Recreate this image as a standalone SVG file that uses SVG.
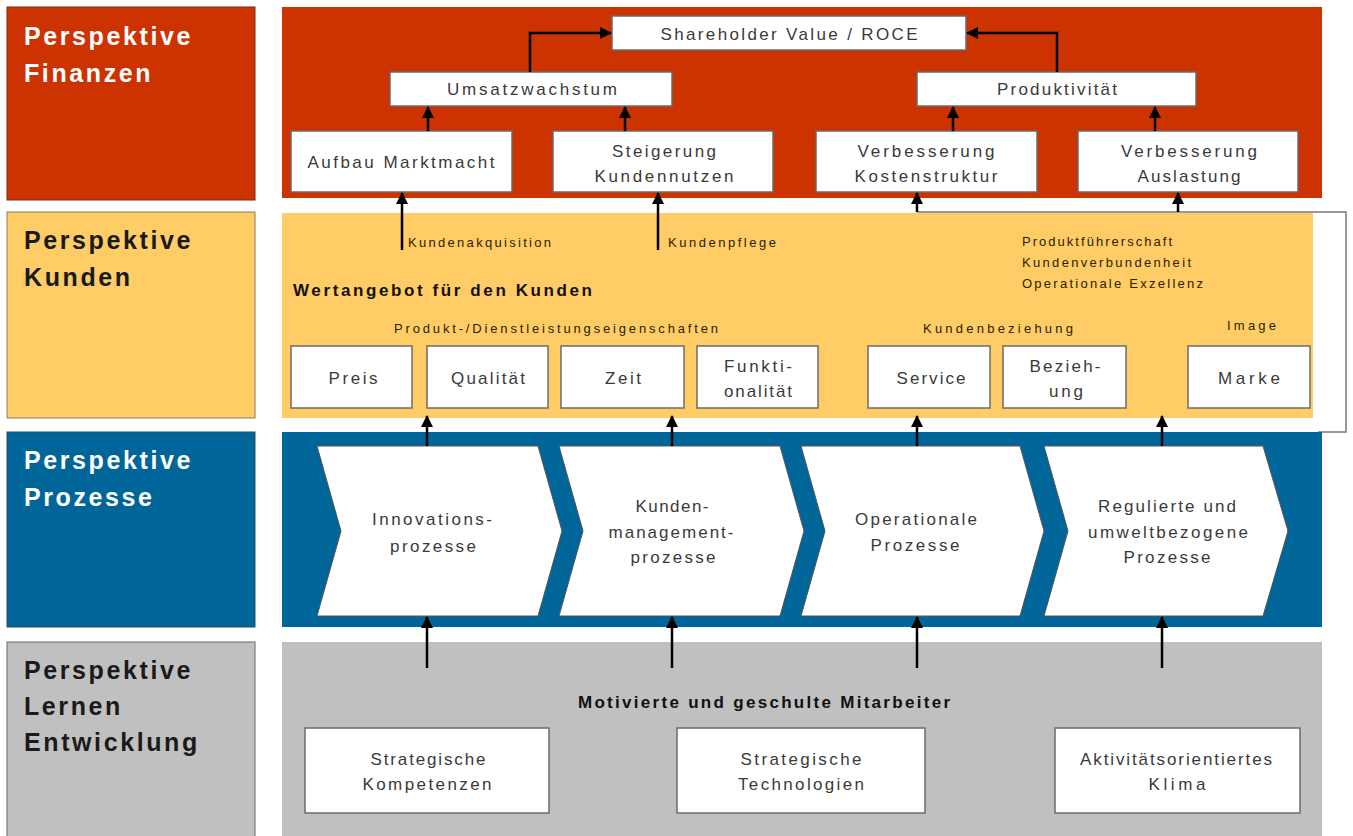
<svg xmlns="http://www.w3.org/2000/svg" width="1353" height="836" viewBox="0 0 1353 836">
<defs>
<marker id="ah" markerUnits="userSpaceOnUse" markerWidth="12" markerHeight="12" refX="11" refY="6" orient="auto">
<path d="M0,0 L12,6 L0,12 Z" fill="#000"/>
</marker>
<style>
.lab{font-family:"Liberation Sans",Arial,sans-serif;font-weight:bold;font-size:25px;letter-spacing:2.6px}
.box{fill:#fff;stroke:#6b6b6b;stroke-width:1.5}
.t{font-family:"Liberation Sans",Arial,sans-serif;font-size:17px;fill:#3a3a3a;text-anchor:middle}
.s{font-family:"Liberation Sans",Arial,sans-serif;font-size:13px;fill:#2a2200}
.b{font-family:"Liberation Sans",Arial,sans-serif;font-size:17px;font-weight:bold;fill:#111}
.con{stroke:#000;stroke-width:2.5;fill:none;marker-end:url(#ah)}
.chev{fill:#fff;stroke:#555;stroke-width:1}
</style>
</defs>
<rect width="1353" height="836" fill="#fff"/>

<!-- bracket line -->
<polyline points="917,212 1346,212 1346,432 1318,432" fill="none" stroke="#777" stroke-width="1.5"/>

<!-- left labels -->
<g id="lab-finanzen">
<rect x="7" y="7" width="248" height="193" fill="#CC3300" stroke="#7a2a10" stroke-width="1"/>
<text class="lab" fill="#fff" x="24" y="45">Perspektive</text>
<text class="lab" fill="#fff" x="24" y="82">Finanzen</text>
</g>
<g id="lab-kunden">
<rect x="7" y="212" width="248" height="206" fill="#FFCC66" stroke="#8a7a5a" stroke-width="1"/>
<text class="lab" fill="#1a1a1a" x="24" y="249">Perspektive</text>
<text class="lab" fill="#1a1a1a" x="24" y="286">Kunden</text>
</g>
<g id="lab-prozesse">
<rect x="7" y="432" width="248" height="195" fill="#006699" stroke="#2a4a60" stroke-width="1"/>
<text class="lab" fill="#fff" x="24" y="469">Perspektive</text>
<text class="lab" fill="#fff" x="24" y="506">Prozesse</text>
</g>
<g id="lab-lernen">
<rect x="7" y="642" width="248" height="200" fill="#C0C0C0" stroke="#666" stroke-width="1"/>
<text class="lab" fill="#1a1a1a" x="24" y="679">Perspektive</text>
<text class="lab" fill="#1a1a1a" x="24" y="715">Lernen</text>
<text class="lab" fill="#1a1a1a" x="24" y="751">Entwicklung</text>
</g>

<!-- panels -->
<g id="panel-finanzen"><rect x="282" y="7" width="1040" height="191" fill="#CC3300"/></g>
<g id="panel-kunden"><rect x="282" y="213" width="1031" height="205" fill="#FFCC66"/></g>
<g id="panel-prozesse"><rect x="282" y="432" width="1040" height="195" fill="#006699"/></g>
<g id="panel-lernen"><rect x="282" y="642" width="1040" height="194" fill="#C0C0C0"/></g>

<!-- finance nodes -->
<g id="shareholder"><rect class="box" x="612" y="16" width="354" height="34"/><text class="t" x="789" y="40" textLength="257" lengthAdjust="spacing">Shareholder Value / ROCE</text></g>
<g id="umsatz"><rect class="box" x="390" y="72" width="282" height="34"/><text class="t" x="532" y="95" textLength="170" lengthAdjust="spacing">Umsatzwachstum</text></g>
<g id="produktivitaet"><rect class="box" x="917" y="72" width="279" height="34"/><text class="t" x="1057" y="95" textLength="120" lengthAdjust="spacing">Produktivität</text></g>
<g id="marktmacht"><rect class="box" x="291" y="131" width="221" height="61"/><text class="t" x="401" y="168" textLength="187" lengthAdjust="spacing">Aufbau Marktmacht</text></g>
<g id="kundennutzen"><rect class="box" x="553" y="131" width="220" height="61"/><text class="t" x="664" y="157" textLength="104" lengthAdjust="spacing">Steigerung</text><text class="t" x="664" y="182" textLength="139" lengthAdjust="spacing">Kundennutzen</text></g>
<g id="kostenstruktur"><rect class="box" x="816" y="131" width="221" height="61"/><text class="t" x="926" y="157" textLength="137" lengthAdjust="spacing">Verbesserung</text><text class="t" x="926" y="182" textLength="143" lengthAdjust="spacing">Kostenstruktur</text></g>
<g id="auslastung"><rect class="box" x="1078" y="131" width="220" height="61"/><text class="t" x="1189" y="157" textLength="136" lengthAdjust="spacing">Verbesserung</text><text class="t" x="1189" y="182" textLength="103" lengthAdjust="spacing">Auslastung</text></g>

<!-- customer texts -->
<g id="kunden-texte">
<text class="s" x="408" y="247" textLength="143" lengthAdjust="spacing">Kundenakquisition</text>
<text class="s" x="668" y="247" textLength="108" lengthAdjust="spacing">Kundenpflege</text>
<text class="s" x="1022" y="246" textLength="150" lengthAdjust="spacing">Produktführerschaft</text>
<text class="s" x="1022" y="267" textLength="169" lengthAdjust="spacing">Kundenverbundenheit</text>
<text class="s" x="1022" y="288" textLength="181" lengthAdjust="spacing">Operationale Exzellenz</text>
<text class="b" x="293" y="296" textLength="299" lengthAdjust="spacing">Wertangebot für den Kunden</text>
<text class="s" x="394" y="333" font-size="14" textLength="324" lengthAdjust="spacing">Produkt-/Dienstleistungseigenschaften</text>
<text class="s" x="923" y="333" font-size="14" textLength="150" lengthAdjust="spacing">Kundenbeziehung</text>
<text class="s" x="1227" y="330" font-size="14" textLength="49" lengthAdjust="spacing">Image</text>
</g>
<g id="preis"><rect class="box" x="291" y="346" width="121" height="62"/><text class="t" x="353" y="384" textLength="49" lengthAdjust="spacing">Preis</text></g>
<g id="qualitaet"><rect class="box" x="427" y="346" width="121" height="62"/><text class="t" x="488" y="384" textLength="74" lengthAdjust="spacing">Qualität</text></g>
<g id="zeit"><rect class="box" x="561" y="346" width="123" height="62"/><text class="t" x="623" y="384" textLength="36" lengthAdjust="spacing">Zeit</text></g>
<g id="funktionalitaet"><rect class="box" x="697" y="346" width="121" height="62"/><text class="t" x="758" y="372" textLength="68" lengthAdjust="spacing">Funkti-</text><text class="t" x="758" y="397" textLength="68" lengthAdjust="spacing">onalität</text></g>
<g id="service"><rect class="box" x="868" y="346" width="122" height="62"/><text class="t" x="931" y="384" textLength="69" lengthAdjust="spacing">Service</text></g>
<g id="beziehung"><rect class="box" x="1003" y="346" width="123" height="62"/><text class="t" x="1065" y="372" textLength="71" lengthAdjust="spacing">Bezieh-</text><text class="t" x="1066" y="397" textLength="34" lengthAdjust="spacing">ung</text></g>
<g id="marke"><rect class="box" x="1188" y="346" width="122" height="62"/><text class="t" x="1249" y="384" textLength="62" lengthAdjust="spacing">Marke</text></g>

<!-- process chevrons -->
<g id="innovation"><polygon class="chev" points="317,446 538,446 562,531 538,616 317,616 341,531"/>
<text class="t" x="432" y="525" textLength="120" lengthAdjust="spacing">Innovations-</text><text class="t" x="433" y="552" textLength="86" lengthAdjust="spacing">prozesse</text></g>
<g id="kundenmanagement"><polygon class="chev" points="559,446 780,446 804,531 780,616 559,616 583,531"/>
<text class="t" x="672" y="512" textLength="73" lengthAdjust="spacing">Kunden-</text><text class="t" x="671" y="538" textLength="125" lengthAdjust="spacing">management-</text><text class="t" x="673" y="563" textLength="85" lengthAdjust="spacing">prozesse</text></g>
<g id="operational"><polygon class="chev" points="801,446 1020,446 1044,531 1020,616 801,616 825,531"/>
<text class="t" x="916" y="525" textLength="122" lengthAdjust="spacing">Operationale</text><text class="t" x="915" y="551" textLength="89" lengthAdjust="spacing">Prozesse</text></g>
<g id="reguliert"><polygon class="chev" points="1044,446 1263,446 1288,531 1263,616 1044,616 1068,531"/>
<text class="t" x="1167" y="512" textLength="138" lengthAdjust="spacing">Regulierte und</text><text class="t" x="1168" y="538" textLength="160" lengthAdjust="spacing">umweltbezogene</text><text class="t" x="1167" y="563" textLength="87" lengthAdjust="spacing">Prozesse</text></g>

<!-- learning -->
<g id="lernen-texte"><text class="b" x="578" y="708" textLength="372" lengthAdjust="spacing">Motivierte und geschulte Mitarbeiter</text></g>
<g id="kompetenzen"><rect class="box" x="305" y="728" width="244" height="85"/><text class="t" x="428" y="765" textLength="115" lengthAdjust="spacing">Strategische</text><text class="t" x="427" y="790" textLength="129" lengthAdjust="spacing">Kompetenzen</text></g>
<g id="technologien"><rect class="box" x="677" y="728" width="248" height="85"/><text class="t" x="801" y="765" textLength="121" lengthAdjust="spacing">Strategische</text><text class="t" x="801" y="790" textLength="126" lengthAdjust="spacing">Technologien</text></g>
<g id="klima"><rect class="box" x="1055" y="728" width="245" height="85"/><text class="t" x="1176" y="765" textLength="192" lengthAdjust="spacing">Aktivitätsorientiertes</text><text class="t" x="1177" y="790" textLength="57" lengthAdjust="spacing">Klima</text></g>

<!-- connectors -->
<g id="connectors">
<path class="con" d="M530,72 V33 H611"/>
<path class="con" d="M1057,72 V33 H967"/>
<path class="con" d="M428,131 V107"/>
<path class="con" d="M625,131 V107"/>
<path class="con" d="M953,131 V107"/>
<path class="con" d="M1155,131 V107"/>
<path class="con" d="M402,250 V193"/>
<path class="con" d="M658,250 V193"/>
<path class="con" d="M917,212 V193"/>
<path class="con" d="M1178,212 V193"/>
<path class="con" d="M427,446 V416"/>
<path class="con" d="M672,446 V416"/>
<path class="con" d="M917,446 V416"/>
<path class="con" d="M1162,446 V416"/>
<path class="con" d="M427,668 V617"/>
<path class="con" d="M672,668 V617"/>
<path class="con" d="M917,668 V617"/>
<path class="con" d="M1162,668 V617"/>
</g>
</svg>
